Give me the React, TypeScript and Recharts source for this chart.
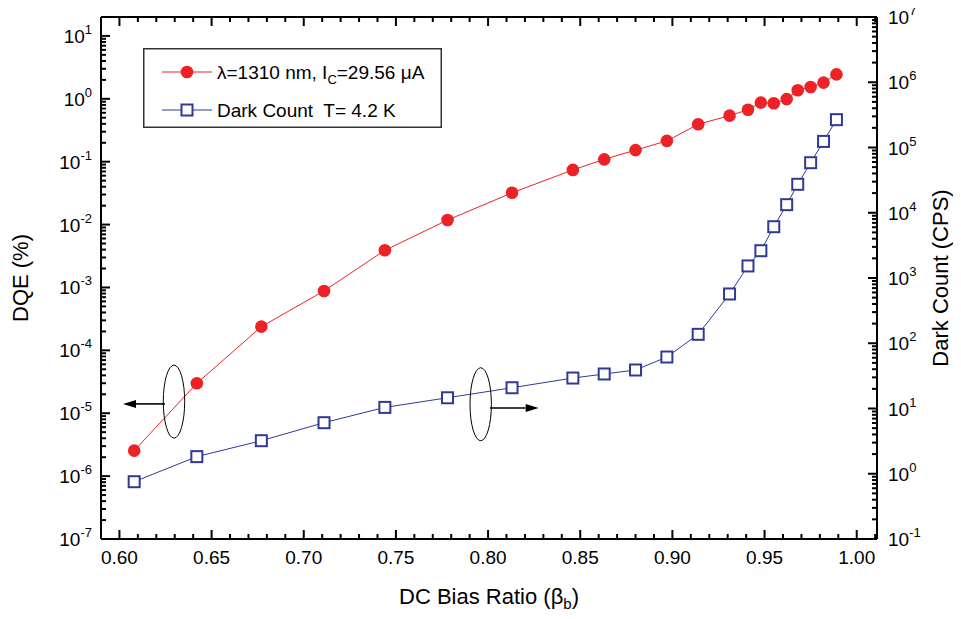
import React from 'react';
import { LineChart, Line, XAxis, YAxis, Legend, ReferenceDot, ReferenceLine, Label } from 'recharts';

// ---- data ----
const beta = [0.608, 0.642, 0.677, 0.711, 0.744, 0.778, 0.813, 0.846, 0.863, 0.880, 0.897, 0.914, 0.931, 0.941, 0.948, 0.955, 0.962, 0.968, 0.975, 0.982, 0.989];
const dqe = [2.54e-6, 2.99e-5, 2.38e-4, 8.8e-4, 3.9e-3, 1.18e-2, 3.2e-2, 7.4e-2, 0.109, 0.153, 0.214, 0.394, 0.54, 0.67, 0.87, 0.85, 0.99, 1.37, 1.54, 1.81, 2.45];
const darkCount = [0.755, 1.83, 3.21, 6.06, 10.4, 14.6, 20.8, 29.3, 33.8, 38.9, 61.5, 137, 569, 1530, 2620, 6110, 13300, 27300, 58500, 124000, 267000];

const xTicks = [0.59, 0.60, 0.61, 0.62, 0.63, 0.64, 0.65, 0.66, 0.67, 0.68, 0.69, 0.70, 0.71, 0.72, 0.73, 0.74, 0.75, 0.76, 0.77, 0.78, 0.79, 0.80, 0.81, 0.82, 0.83, 0.84, 0.85, 0.86, 0.87, 0.88, 0.89, 0.90, 0.91, 0.92, 0.93, 0.94, 0.95, 0.96, 0.97, 0.98, 0.99, 1.00, 1.01];
const leftExponents = [-7, -6, -5, -4, -3, -2, -1, 0, 1];
const rightExponents = [-1, 0, 1, 2, 3, 4, 5, 6, 7];

const X_DOMAIN: [number, number] = [0.59, 1.011];
const LEFT_DOMAIN: [number, number] = [1e-7, 20];
const RIGHT_DOMAIN: [number, number] = [1e-1, 1e7];

const rows = beta.map((b, i) => ({ beta: b, dqe: dqe[i], dark: darkCount[i] }));

const buildLogTicks = (exps: number[], max: number) => {
  const t: number[] = [];
  exps.forEach((e) => {
    for (let k = 1; k <= 9; k++) {
      const v = k * Math.pow(10, e);
      if (v <= max * 1.000001) t.push(v);
    }
  });
  return t;
};
const leftTicks = buildLogTicks(leftExponents, LEFT_DOMAIN[1]);
const rightTicks = buildLogTicks(rightExponents, RIGHT_DOMAIN[1]);

const RED = '#ec2227';
const BLUE = '#2f3a96';
const FONT = '"Liberation Sans", Arial, Helvetica, sans-serif';
const PLOT_TOP = 17;

const isMajorLog = (v: number) => {
  const lg = Math.log10(v);
  return Math.abs(lg - Math.round(lg)) < 1e-6;
};

const LeftTick = (props: any) => {
  const { x, y, payload } = props;
  const v = payload.value;
  const major = isMajorLog(v);
  const len = major ? 9 : 5;
  return (
    <g>
      <line x1={x} x2={x + len} y1={y} y2={y} stroke="#000" strokeWidth={2} />
      {major && (
        <text x={x - 9} y={y + 7} textAnchor="end" fontSize={19} fill="#000" fontFamily={FONT}>
          10<tspan dy={-9} fontSize={13}>{Math.round(Math.log10(v))}</tspan>
        </text>
      )}
    </g>
  );
};

const RightTick = (props: any) => {
  const { x, y, payload } = props;
  const v = payload.value;
  const major = isMajorLog(v);
  const len = major ? 9 : 5;
  return (
    <g>
      <line x1={x - len} x2={x} y1={y} y2={y} stroke="#000" strokeWidth={2} />
      {major && (
        <text x={x + 11} y={y + 7} textAnchor="start" fontSize={19} fill="#000" fontFamily={FONT}>
          10<tspan dy={-9} fontSize={13}>{Math.round(Math.log10(v))}</tspan>
        </text>
      )}
    </g>
  );
};

const BottomTick = (props: any) => {
  const { x, y, payload } = props;
  const v = payload.value;
  const major = Math.abs(v * 20 - Math.round(v * 20)) < 1e-6;
  const len = major ? 9 : 5;
  return (
    <g>
      <line x1={x} x2={x} y1={y} y2={y - len} stroke="#000" strokeWidth={2} />
      <line x1={x} x2={x} y1={PLOT_TOP} y2={PLOT_TOP + len} stroke="#000" strokeWidth={2} />
      {major && (
        <text x={x} y={y + 25} textAnchor="middle" fontSize={19} fill="#000" fontFamily={FONT}>
          {v.toFixed(2)}
        </text>
      )}
    </g>
  );
};

const SquareDot = (p: any) => {
  if (p.cx == null || p.cy == null) return <g key={`sq-${p.index}`} />;
  return (
    <rect key={`sq-${p.index}`} x={p.cx - 5.5} y={p.cy - 5.5} width={11} height={11} fill="#fff" stroke={BLUE} strokeWidth={2} />
  );
};

const Marker = (dir: number) => (p: any) => {
  const { cx, cy } = p;
  const ay = dir < 0 ? cy + 2.3 : cy + 3.7;
  const start = dir < 0 ? cx - 9 : cx + 9.3;
  const tip = dir < 0 ? cx - 51 : cx + 58;
  const base = tip - dir * 13;
  return (
    <g>
      <ellipse cx={cx} cy={cy} rx={10.7} ry={36.5} fill="none" stroke="#000" strokeWidth={1} />
      <line x1={start} x2={base} y1={ay} y2={ay} stroke="#000" strokeWidth={1.6} />
      <polygon points={`${tip},${ay} ${base},${ay - 4} ${base},${ay + 4}`} fill="#000" />
    </g>
  );
};

const LegendBox = () => (
  <svg width={299} height={80} style={{ display: 'block' }}>
    <rect x={0.75} y={0.75} width={297.5} height={78.5} fill="#fff" stroke="#333" strokeWidth={1.5} />
    <line x1={19} x2={69} y1={24} y2={24} stroke={RED} strokeWidth={1} />
    <circle cx={44} cy={24} r={6.3} fill={RED} />
    <text x={74} y={31} fontSize={19} fill="#000" fontFamily={FONT}>
      λ=1310 nm, I<tspan fontSize={13} dy={5}>C</tspan>
      <tspan dy={-5}>=29.56 μA</tspan>
    </text>
    <line x1={19} x2={69} y1={62} y2={62} stroke={BLUE} strokeWidth={1} />
    <rect x={38.5} y={56.5} width={11} height={11} fill="#fff" stroke={BLUE} strokeWidth={2} />
    <text x={74} y={69} fontSize={19} fill="#000" fontFamily={FONT} style={{ whiteSpace: 'pre' }}>
      Dark Count  T= 4.2 K
    </text>
  </svg>
);

const XTitle = (p: any) => {
  const vb = p.viewBox || {};
  const cx = vb.x + vb.width / 2;
  return (
    <text x={cx} y={vb.y + 65} textAnchor="middle" fontSize={22} fill="#000" fontFamily={FONT}>
      DC Bias Ratio (β<tspan fontSize={15} dy={5}>b</tspan>
      <tspan dy={-5}>)</tspan>
    </text>
  );
};

export default function App() {
  return (
    <div style={{ width: 961, height: 619, margin: '-8px 0 0 -8px', fontFamily: FONT, position: 'relative' }}>
      <LineChart width={961} height={619} data={rows} margin={{ top: PLOT_TOP, right: 14, bottom: 8, left: 12 }}>
        <XAxis
          dataKey="beta"
          type="number"
          domain={X_DOMAIN}
          allowDataOverflow
          ticks={xTicks}
          interval={0}
          tick={BottomTick}
          tickLine={false}
          tickSize={0}
          tickMargin={0}
          axisLine={{ stroke: '#000', strokeWidth: 2 }}
          height={72}
        >
          <Label content={XTitle} />
        </XAxis>
        <YAxis
          yAxisId="left"
          scale="log"
          type="number"
          domain={LEFT_DOMAIN}
          allowDataOverflow
          ticks={leftTicks}
          interval={0}
          tick={LeftTick}
          tickLine={false}
          tickSize={0}
          tickMargin={0}
          axisLine={{ stroke: '#000', strokeWidth: 2 }}
          width={89}
        >
          <Label value="DQE (%)" angle={-90} position="insideLeft" offset={8} style={{ textAnchor: 'middle', fontSize: 22, fill: '#000', fontFamily: FONT }} />
        </YAxis>
        <YAxis
          yAxisId="right"
          orientation="right"
          scale="log"
          type="number"
          domain={RIGHT_DOMAIN}
          allowDataOverflow
          ticks={rightTicks}
          interval={0}
          tick={RightTick}
          tickLine={false}
          tickSize={0}
          tickMargin={0}
          axisLine={{ stroke: '#000', strokeWidth: 2 }}
          width={70}
        >
          <Label value="Dark Count (CPS)" angle={-90} position="insideRight" offset={7} style={{ textAnchor: 'middle', fontSize: 22, fill: '#000', fontFamily: FONT }} />
        </YAxis>
        <ReferenceLine yAxisId="left" y={LEFT_DOMAIN[1]} stroke="#000" strokeWidth={2} />
        <Legend
          layout="vertical"
          align="center"
          verticalAlign="middle"
          content={() => <LegendBox />}
          wrapperStyle={{ position: 'absolute', left: 143, top: 48, width: 299, height: 80 }}
        />
        <ReferenceDot yAxisId="left" x={0.6296} y={1.53e-5} r={0} shape={Marker(-1)} />
        <ReferenceDot yAxisId="left" x={0.796} y={1.39e-5} r={0} shape={Marker(1)} />
        <Line
          yAxisId="right"
          dataKey="dark"
          stroke={BLUE}
          strokeWidth={1}
          dot={SquareDot}
          activeDot={false}
          isAnimationActive={false}
        />
        <Line
          yAxisId="left"
          dataKey="dqe"
          stroke={RED}
          strokeWidth={1}
          dot={{ r: 6.3, fill: RED, stroke: RED, strokeWidth: 0 }}
          activeDot={false}
          isAnimationActive={false}
        />
      </LineChart>
    </div>
  );
}
